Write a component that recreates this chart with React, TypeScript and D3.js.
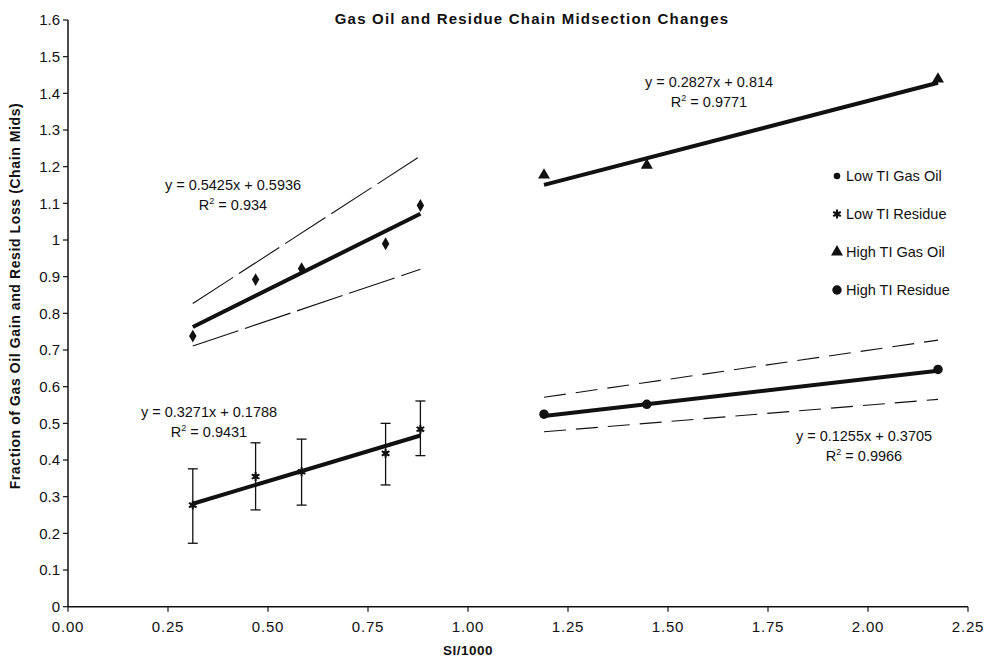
import React from "react";
import * as d3 from "d3";

// Sample positions (SI/1000)
const lowX = [0.312, 0.469, 0.584, 0.794, 0.881];
const highX = [1.19, 1.447, 2.175];

// Measured fractions
const lowGasOil = [0.738, 0.892, 0.922, 0.99, 1.094];
const lowResidue = [0.277, 0.355, 0.368, 0.418, 0.484];
const lowResidueErrLow = [0.173, 0.264, 0.277, 0.332, 0.412];
const lowResidueErrHigh = [0.376, 0.447, 0.457, 0.5, 0.561];
const highGasOil = [1.177, 1.204, 1.439];
const highResidue = [0.525, 0.552, 0.647];

// Linear fits: [slope, intercept, R²]
const fitLowGasOil = [0.5425, 0.5936, "0.934"];
const fitLowResidue = [0.3271, 0.1788, "0.9431"];
const fitHighGasOil = [0.2827, 0.814, "0.9771"];
const fitHighResidue = [0.1255, 0.3705, "0.9966"];

// Confidence band end values [at first x, at last x]
const bandLowGasOilUpper = [0.827, 1.229];
const bandLowGasOilLower = [0.711, 0.92];
const bandHighResidueUpper = [0.571, 0.727];
const bandHighResidueLower = [0.477, 0.5655];

const xTicks = [0, 0.25, 0.5, 0.75, 1.0, 1.25, 1.5, 1.75, 2.0, 2.25];
const yTicks = [0, 0.1, 0.2, 0.3, 0.4, 0.5, 0.6, 0.7, 0.8, 0.9, 1, 1.1, 1.2, 1.3, 1.4, 1.5, 1.6];

const legendItems = ["Low TI Gas Oil", "Low TI Residue", "High TI Gas Oil", "High TI Residue"];

const FONT = "'Liberation Sans', Arial, Helvetica, sans-serif";
const INK = "#111";

const W = 986;
const H = 660;

export default function App() {
  const x = d3.scaleLinear().domain([0, 2.25]).range([68, 968]);
  const y = d3.scaleLinear().domain([0, 1.6]).range([606.7, 20]);

  const line = d3
    .line<[number, number]>()
    .x((d) => x(d[0]))
    .y((d) => y(d[1]));

  const fitLine = (fit: any[], xs: number[]) => {
    const x0 = xs[0];
    const x1 = xs[xs.length - 1];
    return line([
      [x0, fit[0] * x0 + fit[1]],
      [x1, fit[0] * x1 + fit[1]],
    ]);
  };

  const bandLine = (band: number[], xs: number[]) =>
    line([
      [xs[0], band[0]],
      [xs[xs.length - 1], band[1]],
    ]);

  const diamond = d3.symbol().type(d3.symbolDiamond).size(48)()!;
  const triangle = d3.symbol().type(d3.symbolTriangle).size(62)()!;
  const circle = d3.symbol().type(d3.symbolCircle).size(70)()!;
  const smallCircle = d3.symbol().type(d3.symbolCircle).size(34)()!;
  const asterisk = d3.symbol().type(d3.symbolAsterisk).size(55)()!;
  const square = d3.symbol().type(d3.symbolSquare).size(22)()!;

  const residueMarker = (cx: number, cy: number, key: any) => (
    <g key={key} transform={`translate(${cx},${cy})`}>
      <path d={square} fill="#333" />
      <path d={asterisk} fill="none" stroke={INK} strokeWidth={2} />
    </g>
  );

  const eqText = (fit: any[], cx: number, by: number) => {
    const s = `y = ${fit[0]}x + ${fit[1]}`;
    return (
      <g fontFamily={FONT} fontSize={14.5} fill={INK} textAnchor="middle">
        <text x={cx} y={by}>{s}</text>
        <text x={cx} y={by + 20}>
          R<tspan fontSize={9} dy={-6}>2</tspan>
          <tspan dy={6}>{` = ${fit[2]}`}</tspan>
        </text>
      </g>
    );
  };

  return (
    <svg
      width={W}
      height={H}
      style={{ position: "absolute", left: 0, top: 0, background: "#fff" }}
    >
      <rect width={W} height={H} fill="#fff" />

      {/* Title */}
      <text
        x={532}
        y={24}
        textAnchor="middle"
        fontFamily={FONT}
        fontWeight="bold"
        fontSize={15}
        letterSpacing={1.2}
        fill={INK}
      >
        Gas Oil and Residue Chain Midsection Changes
      </text>

      {/* Axes */}
      <line x1={x(0)} x2={x(0)} y1={y(1.6)} y2={y(0)} stroke={INK} strokeWidth={1.5} />
      <line x1={x(0)} x2={x(2.25)} y1={y(0)} y2={y(0)} stroke={INK} strokeWidth={1.5} />

      {yTicks.map((t) => (
        <g key={"y" + t}>
          <line x1={x(0) - 5} x2={x(0)} y1={y(t)} y2={y(t)} stroke={INK} strokeWidth={1.2} />
          <text
            x={x(0) - 8}
            y={y(t)}
            dy="0.36em"
            textAnchor="end"
            fontFamily={FONT}
            fontSize={15}
            fill={INK}
          >
            {String(t)}
          </text>
        </g>
      ))}

      {xTicks.map((t) => (
        <g key={"x" + t}>
          <line x1={x(t)} x2={x(t)} y1={y(0)} y2={y(0) + 5} stroke={INK} strokeWidth={1.2} />
          <text
            x={x(t)}
            y={y(0) + 25}
            textAnchor="middle"
            fontFamily={FONT}
            fontSize={15}
            letterSpacing={0.8}
            fill={INK}
          >
            {t.toFixed(2)}
          </text>
        </g>
      ))}

      <text
        transform={`translate(20,296) rotate(-90)`}
        textAnchor="middle"
        fontFamily={FONT}
        fontWeight="bold"
        fontSize={14}
        letterSpacing={0.6}
        fill={INK}
      >
        Fraction of Gas Oil Gain and Resid Loss (Chain Mids)
      </text>
      <text
        x={468}
        y={655}
        textAnchor="middle"
        fontFamily={FONT}
        fontWeight="bold"
        fontSize={13.5}
        letterSpacing={0.5}
        fill={INK}
      >
        SI/1000
      </text>

      {/* Confidence bands */}
      <path d={bandLine(bandLowGasOilUpper, lowX)!} fill="none" stroke={INK} strokeWidth={1.1} strokeDasharray="48,7" />
      <path d={bandLine(bandLowGasOilLower, lowX)!} fill="none" stroke={INK} strokeWidth={1.1} strokeDasharray="48,7" />
      <path d={bandLine(bandHighResidueUpper, highX)!} fill="none" stroke={INK} strokeWidth={1.1} strokeDasharray="22,10" />
      <path d={bandLine(bandHighResidueLower, highX)!} fill="none" stroke={INK} strokeWidth={1.1} strokeDasharray="22,10" />

      {/* Error bars */}
      {lowX.map((xv, i) => (
        <g key={"e" + i} stroke={INK} strokeWidth={1.3}>
          <line x1={x(xv)} x2={x(xv)} y1={y(lowResidueErrLow[i])} y2={y(lowResidueErrHigh[i])} />
          <line x1={x(xv) - 5} x2={x(xv) + 5} y1={y(lowResidueErrLow[i])} y2={y(lowResidueErrLow[i])} />
          <line x1={x(xv) - 5} x2={x(xv) + 5} y1={y(lowResidueErrHigh[i])} y2={y(lowResidueErrHigh[i])} />
        </g>
      ))}

      {/* Trend lines */}
      <path d={fitLine(fitLowGasOil, lowX)!} fill="none" stroke={INK} strokeWidth={4} />
      <path d={fitLine(fitLowResidue, lowX)!} fill="none" stroke={INK} strokeWidth={4} />
      <path d={fitLine(fitHighGasOil, highX)!} fill="none" stroke={INK} strokeWidth={4} />
      <path d={fitLine(fitHighResidue, highX)!} fill="none" stroke={INK} strokeWidth={4} />

      {/* Markers */}
      {lowX.map((xv, i) => (
        <path key={"lg" + i} d={diamond} transform={`translate(${x(xv)},${y(lowGasOil[i])})`} fill={INK} />
      ))}
      {lowX.map((xv, i) => residueMarker(x(xv), y(lowResidue[i]), "lr" + i))}
      {highX.map((xv, i) => (
        <path key={"hg" + i} d={triangle} transform={`translate(${x(xv)},${y(highGasOil[i])})`} fill={INK} />
      ))}
      {highX.map((xv, i) => (
        <path key={"hr" + i} d={circle} transform={`translate(${x(xv)},${y(highResidue[i])})`} fill={INK} />
      ))}

      {/* Fit equations */}
      {eqText(fitLowGasOil, 233, 190)}
      {eqText(fitLowResidue, 209, 417)}
      {eqText(fitHighGasOil, 709, 87)}
      {eqText(fitHighResidue, 864, 441)}

      {/* Legend */}
      {legendItems.map((name, i) => {
        const ly = 176 + i * 38;
        const mx = 837;
        let marker;
        if (i === 0) marker = <path d={smallCircle} transform={`translate(${mx},${ly})`} fill={INK} />;
        else if (i === 1) marker = residueMarker(mx, ly, "lm");
        else if (i === 2) marker = <path d={triangle} transform={`translate(${mx},${ly})`} fill={INK} />;
        else marker = <path d={circle} transform={`translate(${mx},${ly})`} fill={INK} />;
        return (
          <g key={name}>
            {marker}
            <text x={846} y={ly} dy="0.36em" fontFamily={FONT} fontSize={14.5} fill={INK}>
              {name}
            </text>
          </g>
        );
      })}
    </svg>
  );
}
